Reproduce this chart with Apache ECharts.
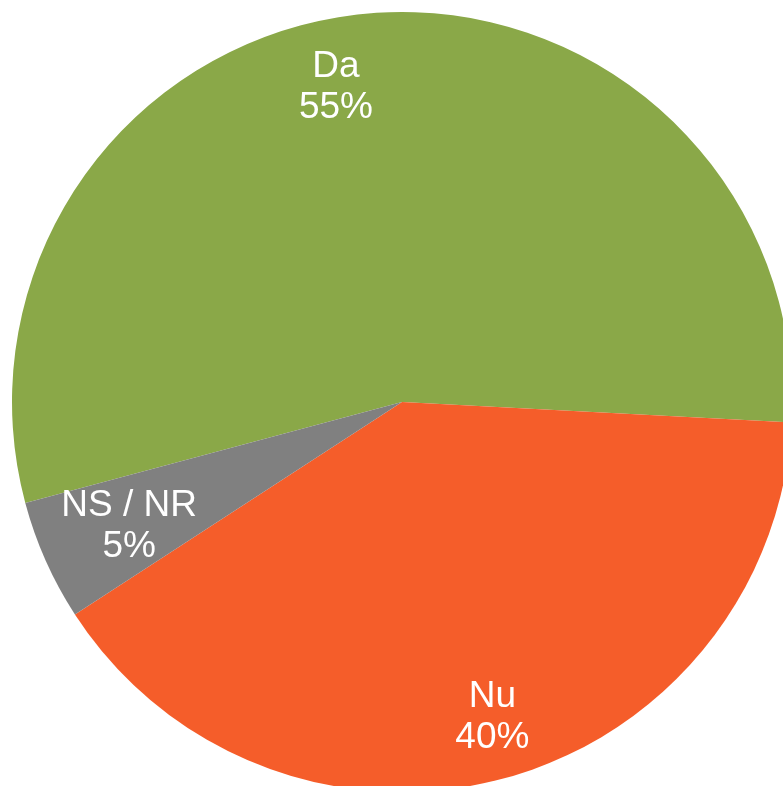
<!DOCTYPE html>
<html>
<head>
<meta charset="utf-8">
<script src="https://cdn.jsdelivr.net/npm/echarts@6/dist/echarts.min.js"></script>
<style>
  html, body { margin: 0; padding: 0; background: #fff; }
  #chart1 { width: 783px; height: 786px; }
</style>
</head>
<body>
<div id="chart1"></div>
<script>
    // данные диаграммы
    var categories = ['Da', 'Nu', 'NS / NR'];
    var values = [55, 40, 5];
    var colors = ['#8AA848', '#F55D2A', '#808080'];

    var pieData = [];
    for (var i = 0; i < categories.length; i++) {
        pieData.push({ name: categories[i], value: values[i], itemStyle: { color: colors[i] } });
    }
    // прозрачная копия - только для подписей
    var labelData = [];
    for (var j = 0; j < categories.length; j++) {
        labelData.push({ name: categories[j], value: values[j] });
    }

    var myChart = echarts.init(document.getElementById('chart1'));
    var option = {
        animation: false,
        series: [
            {
                type: 'pie',
                center: [402, 402],
                radius: [0, 390],
                startAngle: 195,
                clockwise: true,
                silent: true,
                label: { show: false },
                labelLine: { show: false },
                data: pieData
            },
            {
                type: 'pie',
                center: [402, 402],
                radius: [256, 390],
                startAngle: 195,
                clockwise: true,
                silent: true,
                itemStyle: { color: 'rgba(0,0,0,0)' },
                labelLine: { show: false },
                label: {
                    show: true,
                    position: 'inside',
                    color: '#fff',
                    fontFamily: 'Liberation Sans, Arial, sans-serif',
                    fontSize: 37,
                    lineHeight: 41,
                    formatter: function (p) { return p.name + '\n' + p.value + '%'; }
                },
                // сдвиг подписей как в исходнике
                labelLayout: function (p) {
                    if (p.dataIndex === 0) return { dx: -32, dy: 10 };
                    if (p.dataIndex === 2) return { dx: 25, dy: -8 };
                    return { dx: 6, dy: 0 };
                },
                data: labelData
            }
        ]
    };
    myChart.setOption(option);
</script>
</body>
</html>
